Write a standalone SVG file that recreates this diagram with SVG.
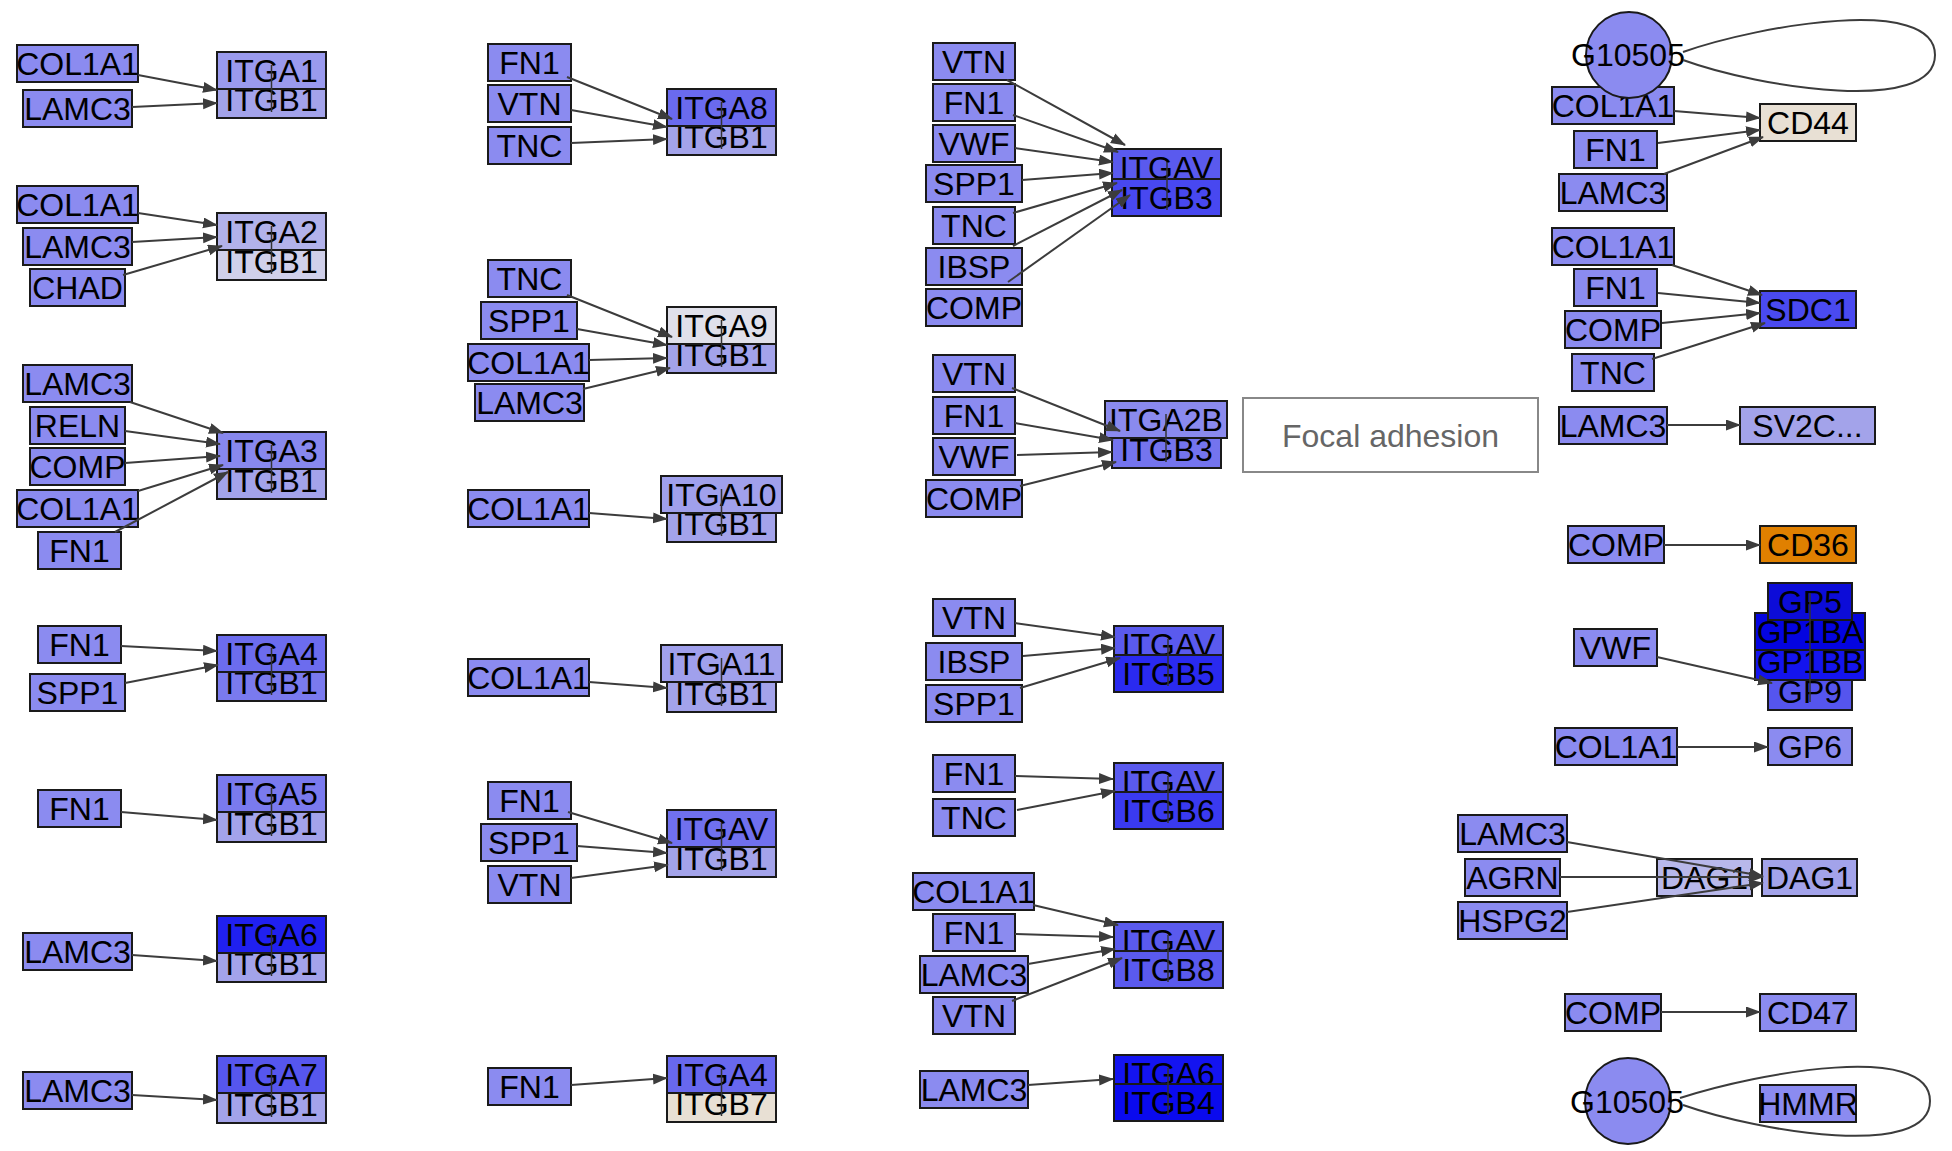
<svg xmlns="http://www.w3.org/2000/svg" width="1952" height="1151" viewBox="0 0 1952 1151">
<defs>
<marker id="arr" markerUnits="userSpaceOnUse" markerWidth="16" markerHeight="12" refX="14" refY="5.5" orient="auto"><path d="M0,0 L15,5.5 L0,11 z" fill="#3c3c3c"/></marker>
<style>
.n rect{stroke:#1a1a1a;stroke-width:2}
text{font-family:"Liberation Sans",Arial,sans-serif;font-size:32px;text-anchor:middle;fill:#000}
.lig{fill:#8b8bf0}
.b1{fill:#a3a3ea}
.e{stroke:#3c3c3c;stroke-width:2;fill:none;marker-end:url(#arr)}
.lp{stroke:#3c3c3c;stroke-width:2;fill:none}
.cl{stroke:#333;stroke-width:1.5}
</style>
</defs>
<rect width="1952" height="1151" fill="#fff"/>

<g class="n">
<!-- Column 1 -->
<g id="c1_col1a1"><rect class="lig" x="17" y="45" width="121" height="37"/><text x="77.5" y="75">COL1A1</text></g>
<g id="c1_lamc3"><rect class="lig" x="23" y="90" width="109" height="37"/><text x="77.5" y="120">LAMC3</text></g>
<g id="cx_itga1"><rect class="b1" x="217" y="81" width="109" height="37"/><text x="271.5" y="111">ITGB1</text><rect fill="#9a9aee" x="217" y="52" width="109" height="37"/><text x="271.5" y="82">ITGA1</text><line class="cl" x1="271.5" y1="65" x2="271.5" y2="112"/></g>

<g id="c2_col1a1"><rect class="lig" x="17" y="186" width="121" height="37"/><text x="77.5" y="216">COL1A1</text></g>
<g id="c2_lamc3"><rect class="lig" x="23" y="228" width="109" height="37"/><text x="77.5" y="258">LAMC3</text></g>
<g id="c2_chad"><rect class="lig" x="30" y="269" width="95" height="37"/><text x="77.5" y="299">CHAD</text></g>
<g id="cx_itga2"><rect fill="#d0d0ea" x="217" y="243" width="109" height="37"/><text x="271.5" y="273">ITGB1</text><rect fill="#b2b2ea" x="217" y="213" width="109" height="37"/><text x="271.5" y="243">ITGA2</text><line class="cl" x1="271.5" y1="226" x2="271.5" y2="274"/></g>

<g id="c3_lamc3"><rect class="lig" x="23" y="365" width="109" height="37"/><text x="77.5" y="395">LAMC3</text></g>
<g id="c3_reln"><rect class="lig" x="30" y="407" width="95" height="37"/><text x="77.5" y="437">RELN</text></g>
<g id="c3_comp"><rect class="lig" x="30" y="448" width="95" height="37"/><text x="77.5" y="478">COMP</text></g>
<g id="c3_col1a1"><rect class="lig" x="17" y="490" width="121" height="37"/><text x="77.5" y="520">COL1A1</text></g>
<g id="c3_fn1"><rect class="lig" x="38" y="532" width="83" height="37"/><text x="79.5" y="562">FN1</text></g>
<g id="cx_itga3"><rect class="b1" x="217" y="462" width="109" height="37"/><text x="271.5" y="492">ITGB1</text><rect fill="#8888ee" x="217" y="432" width="109" height="37"/><text x="271.5" y="462">ITGA3</text><line class="cl" x1="271.5" y1="445" x2="271.5" y2="493"/></g>

<g id="c4_fn1"><rect class="lig" x="38" y="626" width="83" height="37"/><text x="79.5" y="656">FN1</text></g>
<g id="c4_spp1"><rect class="lig" x="30" y="674" width="95" height="37"/><text x="77.5" y="704">SPP1</text></g>
<g id="cx_itga4"><rect fill="#7a7aee" x="217" y="664" width="109" height="37"/><text x="271.5" y="694">ITGB1</text><rect fill="#6c6cee" x="217" y="635" width="109" height="37"/><text x="271.5" y="665">ITGA4</text><line class="cl" x1="271.5" y1="648" x2="271.5" y2="695"/></g>

<g id="c5_fn1"><rect class="lig" x="38" y="790" width="83" height="37"/><text x="79.5" y="820">FN1</text></g>
<g id="cx_itga5"><rect class="b1" x="217" y="805" width="109" height="37"/><text x="271.5" y="835">ITGB1</text><rect fill="#7a7aee" x="217" y="775" width="109" height="37"/><text x="271.5" y="805">ITGA5</text><line class="cl" x1="271.5" y1="788" x2="271.5" y2="836"/></g>

<g id="c6_lamc3"><rect class="lig" x="23" y="933" width="109" height="37"/><text x="77.5" y="963">LAMC3</text></g>
<g id="cx_itga6"><rect class="b1" x="217" y="945" width="109" height="37"/><text x="271.5" y="975">ITGB1</text><rect fill="#2020f0" x="217" y="916" width="109" height="37"/><text x="271.5" y="946">ITGA6</text><line class="cl" x1="271.5" y1="929" x2="271.5" y2="976"/></g>

<g id="c7_lamc3"><rect class="lig" x="23" y="1072" width="109" height="37"/><text x="77.5" y="1102">LAMC3</text></g>
<g id="cx_itga7"><rect class="b1" x="217" y="1086" width="109" height="37"/><text x="271.5" y="1116">ITGB1</text><rect fill="#5656ee" x="217" y="1056" width="109" height="37"/><text x="271.5" y="1086">ITGA7</text><line class="cl" x1="271.5" y1="1069" x2="271.5" y2="1117"/></g>

<!-- Column 2 -->
<g id="c8_fn1"><rect class="lig" x="488" y="44" width="83" height="37"/><text x="529.5" y="74">FN1</text></g>
<g id="c8_vtn"><rect class="lig" x="488" y="85" width="83" height="37"/><text x="529.5" y="115">VTN</text></g>
<g id="c8_tnc"><rect class="lig" x="488" y="127" width="83" height="37"/><text x="529.5" y="157">TNC</text></g>
<g id="cx_itga8"><rect class="b1" x="667" y="118" width="109" height="37"/><text x="721.5" y="148">ITGB1</text><rect fill="#6a6aee" x="667" y="89" width="109" height="37"/><text x="721.5" y="119">ITGA8</text><line class="cl" x1="721.5" y1="102" x2="721.5" y2="149"/></g>

<g id="c9_tnc"><rect class="lig" x="488" y="260" width="83" height="37"/><text x="529.5" y="290">TNC</text></g>
<g id="c9_spp1"><rect class="lig" x="481" y="302" width="96" height="37"/><text x="529" y="332">SPP1</text></g>
<g id="c9_col1a1"><rect class="lig" x="468" y="344" width="121" height="37"/><text x="528.5" y="374">COL1A1</text></g>
<g id="c9_lamc3"><rect class="lig" x="475" y="384" width="109" height="37"/><text x="529.5" y="414">LAMC3</text></g>
<g id="cx_itga9"><rect class="b1" x="667" y="336" width="109" height="37"/><text x="721.5" y="366">ITGB1</text><rect fill="#e0e0ea" x="667" y="307" width="109" height="37"/><text x="721.5" y="337">ITGA9</text><line class="cl" x1="721.5" y1="320" x2="721.5" y2="367"/></g>

<g id="c10_col1a1"><rect class="lig" x="468" y="490" width="121" height="37"/><text x="528.5" y="520">COL1A1</text></g>
<g id="cx_itga10"><rect class="b1" x="667" y="505" width="109" height="37"/><text x="721.5" y="535">ITGB1</text><rect fill="#a0a0ec" x="661" y="476" width="121" height="37"/><text x="721.5" y="506">ITGA10</text><line class="cl" x1="721.5" y1="489" x2="721.5" y2="536"/></g>

<g id="c11_col1a1"><rect class="lig" x="468" y="659" width="121" height="37"/><text x="528.5" y="689">COL1A1</text></g>
<g id="cx_itga11"><rect class="b1" x="667" y="675" width="109" height="37"/><text x="721.5" y="705">ITGB1</text><rect fill="#a0a0ec" x="661" y="645" width="121" height="37"/><text x="721.5" y="675">ITGA11</text><line class="cl" x1="721.5" y1="658" x2="721.5" y2="706"/></g>

<g id="c12_fn1"><rect class="lig" x="488" y="782" width="83" height="37"/><text x="529.5" y="812">FN1</text></g>
<g id="c12_spp1"><rect class="lig" x="481" y="824" width="96" height="37"/><text x="529" y="854">SPP1</text></g>
<g id="c12_vtn"><rect class="lig" x="488" y="866" width="83" height="37"/><text x="529.5" y="896">VTN</text></g>
<g id="cx_itgav1"><rect class="b1" x="667" y="840" width="109" height="37"/><text x="721.5" y="870">ITGB1</text><rect fill="#7070ee" x="667" y="810" width="109" height="37"/><text x="721.5" y="840">ITGAV</text><line class="cl" x1="721.5" y1="823" x2="721.5" y2="871"/></g>

<g id="c13_fn1"><rect class="lig" x="488" y="1068" width="83" height="37"/><text x="529.5" y="1098">FN1</text></g>
<g id="cx_itga4b7"><rect fill="#e8e0d4" x="667" y="1085" width="109" height="37"/><text x="721.5" y="1115">ITGB7</text><rect fill="#6868ee" x="667" y="1056" width="109" height="37"/><text x="721.5" y="1086">ITGA4</text><line class="cl" x1="721.5" y1="1069" x2="721.5" y2="1116"/></g>

<!-- Column 3 -->
<g id="c14_vtn"><rect class="lig" x="933" y="43" width="82" height="37"/><text x="974" y="73">VTN</text></g>
<g id="c14_fn1"><rect class="lig" x="933" y="84" width="82" height="37"/><text x="974" y="114">FN1</text></g>
<g id="c14_vwf"><rect class="lig" x="933" y="125" width="82" height="37"/><text x="974" y="155">VWF</text></g>
<g id="c14_spp1"><rect class="lig" x="926" y="165" width="96" height="37"/><text x="974" y="195">SPP1</text></g>
<g id="c14_tnc"><rect class="lig" x="933" y="207" width="82" height="37"/><text x="974" y="237">TNC</text></g>
<g id="c14_ibsp"><rect class="lig" x="926" y="248" width="96" height="37"/><text x="974" y="278">IBSP</text></g>
<g id="c14_comp"><rect class="lig" x="926" y="289" width="96" height="37"/><text x="974" y="319">COMP</text></g>
<g id="cx_itgavb3"><rect fill="#5a5aee" x="1112" y="149" width="109" height="37"/><text x="1166.5" y="179">ITGAV</text><rect fill="#4848f0" x="1112" y="179" width="109" height="37"/><text x="1166.5" y="209">ITGB3</text><line class="cl" x1="1167" y1="162" x2="1167" y2="210"/></g>

<g id="c15_vtn"><rect class="lig" x="933" y="355" width="82" height="37"/><text x="974" y="385">VTN</text></g>
<g id="c15_fn1"><rect class="lig" x="933" y="397" width="82" height="37"/><text x="974" y="427">FN1</text></g>
<g id="c15_vwf"><rect class="lig" x="933" y="438" width="82" height="37"/><text x="974" y="468">VWF</text></g>
<g id="c15_comp"><rect class="lig" x="926" y="480" width="96" height="37"/><text x="974" y="510">COMP</text></g>
<g id="cx_itga2b"><rect fill="#7474ee" x="1112" y="431" width="109" height="37"/><text x="1166.5" y="461">ITGB3</text><rect fill="#8a8aee" x="1105" y="401" width="122" height="37"/><text x="1166" y="431">ITGA2B</text><line class="cl" x1="1166" y1="414" x2="1166" y2="462"/></g>

<g id="c16_vtn"><rect class="lig" x="933" y="599" width="82" height="37"/><text x="974" y="629">VTN</text></g>
<g id="c16_ibsp"><rect class="lig" x="926" y="643" width="96" height="37"/><text x="974" y="673">IBSP</text></g>
<g id="c16_spp1"><rect class="lig" x="926" y="685" width="96" height="37"/><text x="974" y="715">SPP1</text></g>
<g id="cx_itgavb5"><rect fill="#5a5aee" x="1114" y="626" width="109" height="37"/><text x="1168.5" y="656">ITGAV</text><rect fill="#2a2af0" x="1114" y="655" width="109" height="37"/><text x="1168.5" y="685">ITGB5</text><line class="cl" x1="1168" y1="639" x2="1168" y2="686"/></g>

<g id="c17_fn1"><rect class="lig" x="933" y="755" width="82" height="37"/><text x="974" y="785">FN1</text></g>
<g id="c17_tnc"><rect class="lig" x="933" y="799" width="82" height="37"/><text x="974" y="829">TNC</text></g>
<g id="cx_itgavb6"><rect fill="#5a5aee" x="1114" y="763" width="109" height="37"/><text x="1168.5" y="793">ITGAV</text><rect fill="#3a3af0" x="1114" y="792" width="109" height="37"/><text x="1168.5" y="822">ITGB6</text><line class="cl" x1="1168" y1="776" x2="1168" y2="823"/></g>

<g id="c18_col1a1"><rect class="lig" x="913" y="873" width="121" height="37"/><text x="973.5" y="903">COL1A1</text></g>
<g id="c18_fn1"><rect class="lig" x="933" y="914" width="82" height="37"/><text x="974" y="944">FN1</text></g>
<g id="c18_lamc3"><rect class="lig" x="920" y="956" width="108" height="37"/><text x="974" y="986">LAMC3</text></g>
<g id="c18_vtn"><rect class="lig" x="933" y="997" width="82" height="37"/><text x="974" y="1027">VTN</text></g>
<g id="cx_itgavb8"><rect fill="#5a5aee" x="1114" y="922" width="109" height="37"/><text x="1168.5" y="952">ITGAV</text><rect fill="#5a5aee" x="1114" y="951" width="109" height="37"/><text x="1168.5" y="981">ITGB8</text><line class="cl" x1="1168" y1="935" x2="1168" y2="982"/></g>

<g id="c19_lamc3"><rect class="lig" x="920" y="1071" width="108" height="37"/><text x="974" y="1101">LAMC3</text></g>
<g id="cx_itga6b4"><rect fill="#1414f0" x="1114" y="1055" width="109" height="37"/><text x="1168.5" y="1085">ITGA6</text><rect fill="#0a0aee" x="1114" y="1084" width="109" height="37"/><text x="1168.5" y="1114">ITGB4</text><line class="cl" x1="1168" y1="1068" x2="1168" y2="1115"/></g>

<!-- Column 4 -->
<g id="d1_col1a1"><rect class="lig" x="1552" y="87" width="122" height="37"/><text x="1613" y="117">COL1A1</text></g>
<g id="d1_g10505"><circle cx="1629" cy="55" r="43" fill="#8b8bf0" stroke="#1a1a1a" stroke-width="2"/><text x="1628" y="66">G10505</text></g>
<g id="d1_fn1"><rect class="lig" x="1574" y="131" width="83" height="37"/><text x="1615.5" y="161">FN1</text></g>
<g id="d1_lamc3"><rect class="lig" x="1559" y="174" width="108" height="37"/><text x="1613" y="204">LAMC3</text></g>
<g id="d1_cd44"><rect fill="#e8e0d4" x="1760" y="104" width="96" height="37"/><text x="1808" y="134">CD44</text></g>

<g id="d2_col1a1"><rect class="lig" x="1552" y="228" width="122" height="37"/><text x="1613" y="258">COL1A1</text></g>
<g id="d2_fn1"><rect class="lig" x="1574" y="269" width="83" height="37"/><text x="1615.5" y="299">FN1</text></g>
<g id="d2_comp"><rect class="lig" x="1565" y="311" width="96" height="37"/><text x="1613" y="341">COMP</text></g>
<g id="d2_tnc"><rect class="lig" x="1572" y="354" width="82" height="37"/><text x="1613" y="384">TNC</text></g>
<g id="d2_sdc1"><rect fill="#4a4af0" x="1760" y="291" width="96" height="37"/><text x="1808" y="321">SDC1</text></g>

<g id="d3_lamc3"><rect class="lig" x="1559" y="407" width="108" height="37"/><text x="1613" y="437">LAMC3</text></g>
<g id="d3_sv2c"><rect fill="#a3a3ea" x="1740" y="407" width="135" height="37"/><text x="1807.5" y="437">SV2C...</text></g>

<g id="d4_comp"><rect class="lig" x="1568" y="526" width="96" height="37"/><text x="1616" y="556">COMP</text></g>
<g id="d4_cd36"><rect fill="#e08000" x="1760" y="526" width="96" height="37"/><text x="1808" y="556">CD36</text></g>

<g id="d5_vwf"><rect class="lig" x="1574" y="629" width="83" height="37"/><text x="1615.5" y="659">VWF</text></g>
<g id="cx_gp"><rect fill="#5555ee" x="1768" y="673" width="84" height="37"/><text x="1810" y="703">GP9</text><rect fill="#1414ee" x="1755" y="643" width="110" height="37"/><text x="1810" y="673">GP1BB</text><rect fill="#0404e0" x="1755" y="613" width="110" height="37"/><text x="1810" y="643">GP1BA</text><rect fill="#0c0cd8" x="1768" y="583" width="84" height="37"/><text x="1810" y="613">GP5</text><line class="cl" x1="1810" y1="593" x2="1810" y2="702"/></g>

<g id="d6_col1a1"><rect class="lig" x="1555" y="728" width="122" height="37"/><text x="1616" y="758">COL1A1</text></g>
<g id="d6_gp6"><rect class="lig" x="1768" y="728" width="84" height="37"/><text x="1810" y="758">GP6</text></g>

<g id="d7_lamc3"><rect class="lig" x="1458" y="815" width="109" height="37"/><text x="1512.5" y="845">LAMC3</text></g>
<g id="d7_agrn"><rect class="lig" x="1465" y="859" width="95" height="37"/><text x="1512.5" y="889">AGRN</text></g>
<g id="d7_hspg2"><rect class="lig" x="1458" y="902" width="109" height="37"/><text x="1512.5" y="932">HSPG2</text></g>
<g id="d7_dag1a"><rect fill="#b8b8ea" x="1657" y="859" width="95" height="37"/><text x="1704.5" y="889">DAG1</text></g>
<g id="d7_dag1b"><rect fill="#a3a3ea" x="1762" y="859" width="95" height="37"/><text x="1809.5" y="889">DAG1</text></g>

<g id="d8_comp"><rect class="lig" x="1565" y="994" width="96" height="37"/><text x="1613" y="1024">COMP</text></g>
<g id="d8_cd47"><rect class="lig" x="1760" y="994" width="96" height="37"/><text x="1808" y="1024">CD47</text></g>

<g id="d9_g10505"><circle cx="1628" cy="1101" r="43" fill="#8b8bf0" stroke="#1a1a1a" stroke-width="2"/><text x="1627" y="1113">G10505</text></g>
<g id="d9_hmmr"><rect class="lig" x="1760" y="1085" width="96" height="37"/><text x="1808" y="1115">HMMR</text></g>
</g>

<g id="focal_adhesion"><rect x="1243" y="398" width="295" height="74" fill="#fff" stroke="#888" stroke-width="2"/><text x="1390.5" y="447" style="fill:#666">Focal adhesion</text></g>

<!-- Connectors -->
<g id="connectors">
<line class="e" x1="138" y1="75" x2="217" y2="90"/>
<line class="e" x1="132" y1="107" x2="217" y2="103"/>
<line class="e" x1="138" y1="213" x2="217" y2="225"/>
<line class="e" x1="132" y1="242" x2="217" y2="237"/>
<line class="e" x1="123" y1="275" x2="222" y2="246"/>
<line class="e" x1="130" y1="402" x2="223" y2="433"/>
<line class="e" x1="125" y1="431" x2="220" y2="444"/>
<line class="e" x1="125" y1="463" x2="220" y2="456"/>
<line class="e" x1="138" y1="491" x2="223" y2="465"/>
<line class="e" x1="115" y1="532" x2="228" y2="472"/>
<line class="e" x1="121" y1="646" x2="217" y2="651"/>
<line class="e" x1="125" y1="683" x2="218" y2="665"/>
<line class="e" x1="121" y1="812" x2="217" y2="820"/>
<line class="e" x1="132" y1="955" x2="217" y2="961"/>
<line class="e" x1="132" y1="1095" x2="217" y2="1100"/>

<line class="e" x1="567" y1="77" x2="672" y2="119"/>
<line class="e" x1="571" y1="110" x2="667" y2="127"/>
<line class="e" x1="571" y1="143" x2="667" y2="139"/>
<line class="e" x1="567" y1="295" x2="672" y2="337"/>
<line class="e" x1="577" y1="329" x2="667" y2="345"/>
<line class="e" x1="589" y1="360" x2="667" y2="358"/>
<line class="e" x1="583" y1="389" x2="670" y2="368"/>
<line class="e" x1="589" y1="513" x2="667" y2="519"/>
<line class="e" x1="589" y1="682" x2="667" y2="688"/>
<line class="e" x1="568" y1="812" x2="672" y2="843"/>
<line class="e" x1="577" y1="846" x2="667" y2="853"/>
<line class="e" x1="571" y1="878" x2="668" y2="865"/>
<line class="e" x1="571" y1="1085" x2="667" y2="1078"/>

<line class="e" x1="1007" y1="80" x2="1125" y2="145"/>
<line class="e" x1="1013" y1="115" x2="1118" y2="152"/>
<line class="e" x1="1015" y1="148" x2="1113" y2="162"/>
<line class="e" x1="1022" y1="180" x2="1113" y2="173"/>
<line class="e" x1="1013" y1="213" x2="1117" y2="183"/>
<line class="e" x1="1013" y1="246" x2="1122" y2="190"/>
<line class="e" x1="1008" y1="282" x2="1130" y2="195"/>
<line class="e" x1="1012" y1="388" x2="1120" y2="431"/>
<line class="e" x1="1015" y1="423" x2="1113" y2="440"/>
<line class="e" x1="1017" y1="455" x2="1112" y2="452"/>
<line class="e" x1="1020" y1="486" x2="1116" y2="462"/>
<line class="e" x1="1015" y1="623" x2="1115" y2="637"/>
<line class="e" x1="1023" y1="656" x2="1115" y2="648"/>
<line class="e" x1="1020" y1="688" x2="1120" y2="658"/>
<line class="e" x1="1015" y1="776" x2="1113" y2="779"/>
<line class="e" x1="1017" y1="810" x2="1115" y2="791"/>
<line class="e" x1="1033" y1="905" x2="1118" y2="925"/>
<line class="e" x1="1015" y1="934" x2="1113" y2="937"/>
<line class="e" x1="1028" y1="964" x2="1115" y2="949"/>
<line class="e" x1="1012" y1="1001" x2="1122" y2="958"/>
<line class="e" x1="1028" y1="1085" x2="1113" y2="1079"/>

<path class="lp" d="M1683,52 C1760,25 1935,-5 1935,55 C1935,115 1760,88 1683,60"/>
<line class="e" x1="1674" y1="111" x2="1760" y2="118"/>
<line class="e" x1="1658" y1="143" x2="1760" y2="130"/>
<line class="e" x1="1664" y1="174" x2="1763" y2="137"/>
<line class="e" x1="1672" y1="265" x2="1762" y2="295"/>
<line class="e" x1="1658" y1="293" x2="1760" y2="303"/>
<line class="e" x1="1662" y1="323" x2="1760" y2="313"/>
<line class="e" x1="1652" y1="359" x2="1765" y2="323"/>
<line class="e" x1="1667" y1="425" x2="1740" y2="425"/>
<line class="e" x1="1664" y1="545" x2="1760" y2="545"/>
<line class="e" x1="1657" y1="657" x2="1772" y2="683"/>
<line class="e" x1="1677" y1="747" x2="1768" y2="747"/>
<line class="e" x1="1567" y1="842" x2="1763" y2="876"/>
<line class="e" x1="1560" y1="877" x2="1763" y2="877"/>
<line class="e" x1="1567" y1="912" x2="1763" y2="883"/>
<line class="e" x1="1661" y1="1012" x2="1760" y2="1012"/>
<path class="lp" d="M1680,1098 C1760,1072 1930,1042 1930,1101 C1930,1160 1760,1132 1683,1105"/>
</g>
</svg>
